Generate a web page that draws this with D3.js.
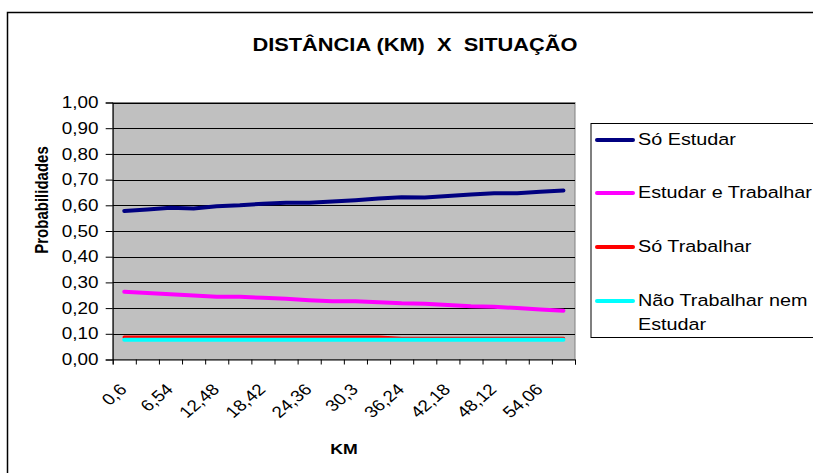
<!DOCTYPE html>
<html><head><meta charset="utf-8">
<script src="https://cdn.jsdelivr.net/npm/d3@7"></script>
<style>
body{margin:0;background:#fff}
svg{display:block}
text{font-family:"Liberation Sans",Arial,Helvetica,sans-serif;fill:#000}
</style>
</head><body>
<svg id="chart" width="813" height="473"></svg>
<script>
// ---------- DATA ----------
const categories = ["0,6","3,57","6,54","9,51","12,48","15,45","18,42","21,39","24,36","27,33",
                    "30,3","33,27","36,24","39,21","42,18","45,15","48,12","51,09","54,06","57,03"];
const soEstudar = [0.578,0.584,0.590,0.588,0.596,0.600,0.606,0.610,0.610,0.615,
                   0.620,0.626,0.631,0.630,0.636,0.642,0.647,0.647,0.653,0.658];
const estudarETrabalhar = [0.264,0.259,0.254,0.249,0.244,0.244,0.240,0.236,0.231,0.227,
                           0.227,0.223,0.219,0.217,0.212,0.207,0.205,0.200,0.195,0.190];
const soTrabalhar = [0.087,0.087,0.087,0.087,0.087,0.087,0.087,0.087,0.087,0.087,
                     0.087,0.087,0.082,0.082,0.082,0.082,0.082,0.082,0.082,0.082];
const naoTrabalharNemEstudar = [0.077,0.077,0.077,0.077,0.077,0.077,0.077,0.077,0.077,0.077,
                                0.077,0.077,0.077,0.077,0.077,0.077,0.077,0.077,0.077,0.077];
const yTickValues = [0,0.1,0.2,0.3,0.4,0.5,0.6,0.7,0.8,0.9,1.0];
const seriesNames = ["Só Estudar","Estudar e Trabalhar","Só Trabalhar","Não Trabalhar nem Estudar"];
const seriesColors = ["#000080","#FF00FF","#FF0000","#00FFFF"];
const chartTitle = "DISTÂNCIA (KM)\u00A0 X \u00A0SITUAÇÃO";
const xTitle = "KM";
const yTitle = "Probabilidades";

// ---------- LAYOUT ----------
const svg = d3.select("#chart");
const SX = 1.18; // horizontal text stretch seen in the reference
const plot = {left:112.7, right:575, top:102.5, bottom:359.5};

const x = d3.scaleBand().domain(categories).range([plot.left, plot.right]).padding(0);
const y = d3.scaleLinear().domain([0,1]).range([plot.bottom, plot.top]);
const xb = d3.scaleLinear().domain([0,categories.length]).range([plot.left, plot.right]);

// outer chart border
svg.append("rect").attr("x",7.5).attr("y",12.5).attr("width",900).attr("height",600)
  .attr("fill","none").attr("stroke","#000").attr("stroke-width",1.5);

// title
svg.append("text").attr("transform",`translate(415,45) scale(${SX},1)`)
  .attr("text-anchor","middle").attr("dominant-baseline","central")
  .style("font-size","18.5px").style("font-weight","bold").text(chartTitle);

// plot background
svg.append("rect").attr("x",plot.left).attr("y",plot.top)
  .attr("width",plot.right-plot.left).attr("height",plot.bottom-plot.top)
  .attr("fill","#C0C0C0").attr("stroke","#808080").attr("stroke-width",1);

// gridlines
svg.append("g").selectAll("line").data(yTickValues.filter(d=>d>0)).join("line")
  .attr("x1",plot.left).attr("x2",plot.right)
  .attr("y1",d=>Math.round(y(d))+0.5).attr("y2",d=>Math.round(y(d))+0.5)
  .attr("stroke","#000").attr("stroke-width",1);

// y axis
const yAxis = svg.append("g").attr("transform",`translate(${plot.left},0)`)
  .call(d3.axisLeft(y).tickValues(yTickValues).tickSize(7).tickPadding(5)
    .tickFormat(d=>d.toFixed(2).replace(".",",")));
yAxis.selectAll("path").attr("stroke","#000");
yAxis.selectAll("line").attr("stroke","#000");
yAxis.selectAll("text").style("font-size","16px").attr("fill","#000")
  .attr("font-family","Liberation Sans, Arial, sans-serif")
  .attr("transform",`scale(${SX},1)`);

// x axis tick marks (category boundaries)
const xTickAxis = svg.append("g").attr("transform",`translate(0,${plot.bottom})`)
  .call(d3.axisBottom(xb).tickValues(d3.range(categories.length+1)).tickSize(5).tickFormat(""));
xTickAxis.selectAll("path").attr("stroke","#000");
xTickAxis.selectAll("line").attr("stroke","#000");

// x axis labels
const xLabAxis = svg.append("g").attr("transform",`translate(0,${plot.bottom})`)
  .call(d3.axisBottom(x).tickValues(categories.filter((d,i)=>i%2===0)).tickSize(0));
xLabAxis.select(".domain").remove();
xLabAxis.selectAll("text").style("font-size","16px").attr("fill","#000")
  .attr("font-family","Liberation Sans, Arial, sans-serif")
  .attr("text-anchor","end").attr("x",0).attr("y",0).attr("dy","0.35em")
  .attr("transform",`translate(-1,27) scale(${SX},1) rotate(-45)`);

// axis titles
svg.append("text").attr("transform",`translate(344,449) scale(${SX},1)`)
  .attr("text-anchor","middle").attr("dominant-baseline","central")
  .style("font-size","15px").style("font-weight","bold").text(xTitle);
svg.append("text").attr("transform",`translate(42,200) scale(${SX},1) rotate(-90)`)
  .attr("text-anchor","middle").attr("dominant-baseline","central")
  .style("font-size","15px").style("font-weight","bold").text(yTitle);

// lines
const allSeries = [soEstudar, estudarETrabalhar, soTrabalhar, naoTrabalharNemEstudar];
const widths = [4,4,3.5,4];
const line = d3.line().x((d,i)=>x(categories[i])+x.bandwidth()/2).y(d=>y(d));
svg.append("g").selectAll("path").data(allSeries).join("path")
  .attr("d",line).attr("fill","none")
  .attr("stroke",(d,i)=>seriesColors[i]).attr("stroke-width",(d,i)=>widths[i])
  .attr("stroke-linejoin","round").attr("stroke-linecap","round");

// legend
const lg = svg.append("g");
lg.append("rect").attr("x",591).attr("y",123.5).attr("width",300).attr("height",214)
  .attr("fill","#fff").attr("stroke","#000").attr("stroke-width",1);
const legY = [140,193,247,301];
seriesNames.forEach((name,i)=>{
  lg.append("line").attr("x1",597).attr("x2",633).attr("y1",legY[i]).attr("y2",legY[i])
    .attr("stroke",seriesColors[i]).attr("stroke-width",4).attr("stroke-linecap","round");
  const lines = i===3 ? ["Não Trabalhar nem","Estudar"] : [name];
  lines.forEach((t,j)=>{
    lg.append("text").attr("transform",`translate(638,${legY[i]+j*24}) scale(1.2,1)`)
      .attr("dominant-baseline","central").style("font-size","16.5px").text(t);
  });
});
</script>
</body></html>
